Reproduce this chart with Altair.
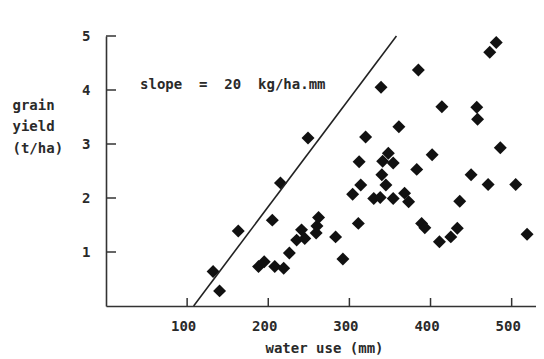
import altair as alt
import pandas as pd

# ---- data ----
water_use = [132, 140, 163, 188, 195, 205, 208, 219, 226, 215,
             249, 235, 241, 245, 259, 260, 262, 283, 292, 311,
             304, 314, 312, 320, 339, 330, 338, 340, 345, 341,
             348, 354, 354, 361, 368, 373, 383, 385, 389, 393,
             402, 414, 411, 425, 433, 436, 450, 457, 458, 471,
             473, 481, 486, 505, 519]
grain_yield = [0.64, 0.28, 1.39, 0.73, 0.82, 1.59, 0.73, 0.70, 0.98, 2.28,
               3.11, 1.22, 1.41, 1.25, 1.35, 1.48, 1.64, 1.28, 0.87, 1.53,
               2.07, 2.24, 2.67, 3.13, 4.05, 1.99, 2.01, 2.43, 2.24, 2.68,
               2.83, 2.65, 1.99, 3.32, 2.09, 1.93, 2.53, 4.37, 1.53, 1.45,
               2.80, 3.69, 1.19, 1.28, 1.44, 1.94, 2.43, 3.68, 3.46, 2.25,
               4.70, 4.88, 2.93, 2.25, 1.33]
x_ticks = [100, 200, 300, 400, 500]
y_ticks = [1, 2, 3, 4, 5]
line_x = [108, 358]
line_y = [0, 5]
note_text = "slope \u00a0= \u00a020 \u00a0kg/ha.mm"
note_x = [42]
note_y = [4.02]
x_title = "water use (mm)"
y_title = ["grain", "yield", "(t/ha)"]

FONT = "DejaVu Sans Mono"
INK = "#2a2a2a"
W, H = 430, 270

xs = alt.Scale(domain=[0, 530], nice=False, zero=False)
ys = alt.Scale(domain=[0, 5], nice=False)

x_axis = alt.Axis(values=x_ticks, title=x_title, grid=False, ticks=False, tickSize=0,
                  domainColor="#333", domainWidth=1.6,
                  labelFont=FONT, labelFontSize=14, labelFontWeight="bold", labelColor=INK,
                  labelBaseline="alphabetic", labelPadding=24, labelOffset=-4, labelOverlap=False,
                  labelFlush=False,
                  titleFont=FONT, titleFontSize=14, titleFontWeight="bold", titleColor=INK,
                  titleBaseline="alphabetic", titleX=218, titleY=46)
y_axis = alt.Axis(values=y_ticks, title=y_title, grid=False, ticks=False, tickSize=0,
                  domainColor="#333", domainWidth=1.6,
                  labelFont=FONT, labelFontSize=14, labelFontWeight="bold", labelColor=INK,
                  labelPadding=16, labelOverlap=False,
                  titleFont=FONT, titleFontSize=14, titleFontWeight="bold", titleColor=INK,
                  titleAngle=0, titleAlign="left", titleBaseline="alphabetic",
                  titleX=-94, titleY=73, titleLineHeight=21.5)

X = lambda: alt.X("x:Q", scale=xs, axis=x_axis)
Y = lambda: alt.Y("y:Q", scale=ys, axis=y_axis)

points = alt.Chart(pd.DataFrame({"x": water_use, "y": grain_yield})).mark_point(
    shape="diamond", filled=True, size=168, color="#111", opacity=1
).encode(x=X(), y=Y())

line = alt.Chart(pd.DataFrame({"x": line_x, "y": line_y})).mark_line(
    color="#222", strokeWidth=1.6
).encode(x=X(), y=Y())

xt = alt.Chart(pd.DataFrame({"x": x_ticks})).mark_rule(color="#333", strokeWidth=1.5).encode(
    x=X(), y=alt.value(H), y2=alt.value(H - 8)
)
yt = alt.Chart(pd.DataFrame({"y": y_ticks})).mark_rule(color="#333", strokeWidth=1.5).encode(
    y=Y(), x=alt.value(0), x2=alt.value(10)
)

note = alt.Chart(pd.DataFrame({"x": note_x, "y": note_y, "t": [note_text]})).mark_text(
    align="left", baseline="alphabetic", font=FONT, fontSize=14, fontWeight="bold", color=INK
).encode(x=X(), y=Y(), text="t:N")

chart = alt.layer(points, line, xt, yt, note).properties(
    width=W, height=H,
    autosize=alt.AutoSizeParams(type="none"),
    padding={"left": 98, "top": 28, "right": 0, "bottom": 53},
    background="white",
).configure_view(stroke=None)

chart.save("out.html", embed_options={"renderer": "svg", "actions": False})
